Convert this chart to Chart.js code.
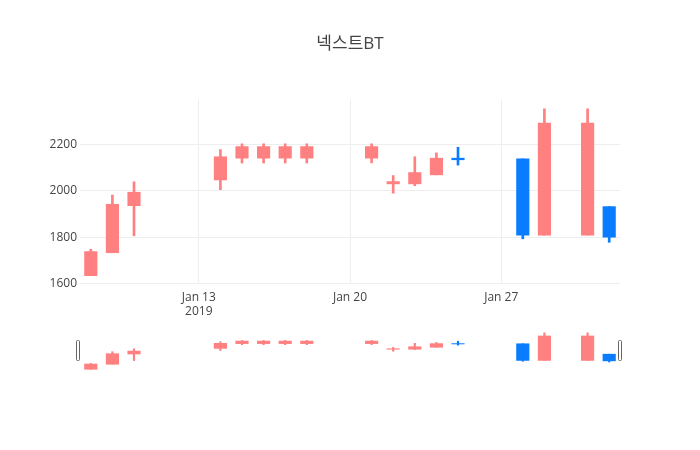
<!DOCTYPE html>
<html>
<head>
<meta charset="utf-8">
<script src="https://cdn.jsdelivr.net/npm/chart.js@4.4.1/dist/chart.umd.min.js"></script>
<style>
  html, body { margin: 0; padding: 0; background: #fff; }
  #wrap { position: relative; width: 700px; height: 450px; }
  #main { position: absolute; left: 0; top: 0; }
  #slider { position: absolute; left: 0; top: 331px; }
</style>
</head>
<body>
<div id="wrap">
  <canvas id="main" width="700" height="450"></canvas>
  <canvas id="slider" width="700" height="40"></canvas>
</div>
<script>
const chartTitle = '넥스트BT';
const dates = ['2019-01-08', '2019-01-09', '2019-01-10', '2019-01-14', '2019-01-15', '2019-01-16',
               '2019-01-17', '2019-01-18', '2019-01-21', '2019-01-22', '2019-01-23', '2019-01-24',
               '2019-01-25', '2019-01-28', '2019-01-29', '2019-01-31', '2019-02-01'];
const openVals  = [1634, 1733, 1936, 2047, 2141, 2141, 2141, 2141, 2141, 2030, 2030, 2069, 2141, 2138, 1809, 1809, 1932];
const highVals  = [1748, 1982, 2039, 2178, 2203, 2203, 2203, 2203, 2203, 2066, 2147, 2164, 2188, 2138, 2354, 2354, 1932];
const lowVals   = [1634, 1733, 1806, 2005, 2120, 2120, 2120, 2120, 2121, 1990, 2022, 2069, 2111, 1793, 1809, 1809, 1778];
const closeVals = [1738, 1942, 1994, 2147, 2191, 2191, 2191, 2191, 2191, 2040, 2079, 2141, 2134, 1809, 2292, 2292, 1800];
const yTicks = [1600, 1800, 2000, 2200];
const xTickDates = ['2019-01-13', '2019-01-20', '2019-01-27'];

const UP = 'rgb(255,128,128)';
const DOWN = 'rgb(10,124,255)';
const FONT = '"Open Sans", "Noto Sans CJK KR", sans-serif';

// day number counted from 2018-12-31, so Jan 1 = 1, Feb 1 = 32
const base = Date.UTC(2018, 11, 31);
const dayNum = s => (Date.parse(s + 'T00:00:00Z') - base) / 86400000;
const xs = dates.map(dayNum);
const xTickVals = xTickDates.map(dayNum);

const colors = openVals.map((o, i) => closeVals[i] >= o ? UP : DOWN);
const bodies = xs.map((x, i) => ({ x: x, y: [openVals[i], closeVals[i]] }));
const wicks = xs.map((x, i) => ({ x: x, y: [lowVals[i], highVals[i]] }));

function tickLabel(v) {
  const d = new Date(base + v * 86400000);
  const txt = 'Jan ' + d.getUTCDate();
  return v === xTickVals[0] ? [txt, '2019'] : txt;
}

new Chart(document.getElementById('main'), {
  type: 'bar',
  data: {
    datasets: [
      { data: wicks, backgroundColor: colors, barThickness: 2, grouped: false, order: 2 },
      { data: bodies, backgroundColor: colors, barThickness: 12.5, grouped: false, order: 1 }
    ]
  },
  options: {
    responsive: false,
    animation: false,
    layout: { padding: { left: 0, right: 0, top: 0, bottom: 130 } },
    plugins: {
      legend: { display: false },
      tooltip: { enabled: false },
      title: {
        display: true, text: chartTitle, color: '#444',
        font: { family: FONT, size: 17, weight: 'normal' },
        padding: { top: 34, bottom: 45.6 }
      }
    },
    scales: {
      x: {
        type: 'linear', min: 7.5, max: 32.5, offset: false,
        afterBuildTicks: s => { s.ticks = xTickVals.map(v => ({ value: v })); },
        afterFit: s => { s.height = 36; },
        ticks: { color: '#444', font: { family: FONT, size: 12 }, padding: 6, maxRotation: 0, callback: tickLabel },
        grid: { color: '#eee', drawTicks: false, offset: false },
        border: { display: false }
      },
      y: {
        min: 1598, max: 2392,
        afterBuildTicks: s => { s.ticks = yTicks.map(v => ({ value: v })); },
        afterFit: s => { s.width = 80; },
        ticks: { color: '#444', font: { family: FONT, size: 12 }, padding: 3, callback: v => String(v) },
        grid: { color: '#eee', drawTicks: false },
        border: { display: false }
      },
      // empty right margin so the plot ends at the same place as in the reference
      yRight: {
        position: 'right', min: 1598, max: 2392,
        afterFit: s => { s.width = 80; },
        ticks: { display: false },
        grid: { display: false },
        border: { display: false }
      }
    }
  }
});

// range slider handles
const handles = {
  id: 'handles',
  afterDraw(chart) {
    const ctx = chart.ctx;
    ctx.save();
    ctx.fillStyle = '#fff';
    ctx.strokeStyle = '#666';
    ctx.lineWidth = 1;
    [76.5, 618.5].forEach(x => {
      ctx.beginPath();
      ctx.roundRect(x, 9.5, 3, 20, 1);
      ctx.fill();
      ctx.stroke();
    });
    ctx.restore();
  }
};

new Chart(document.getElementById('slider'), {
  type: 'bar',
  data: {
    datasets: [
      { data: wicks, backgroundColor: colors, barThickness: 1.5, grouped: false, order: 2 },
      { data: bodies, backgroundColor: colors, barThickness: 12.5, grouped: false, order: 1 }
    ]
  },
  options: {
    responsive: false,
    animation: false,
    layout: { padding: { left: 80, right: 80, top: 0, bottom: 0 } },
    plugins: { legend: { display: false }, tooltip: { enabled: false } },
    scales: {
      x: { type: 'linear', min: 7.5, max: 32.5, offset: false, display: false },
      y: { min: 1600, max: 2390, display: false }
    }
  },
  plugins: [handles]
});
</script>
</body>
</html>
